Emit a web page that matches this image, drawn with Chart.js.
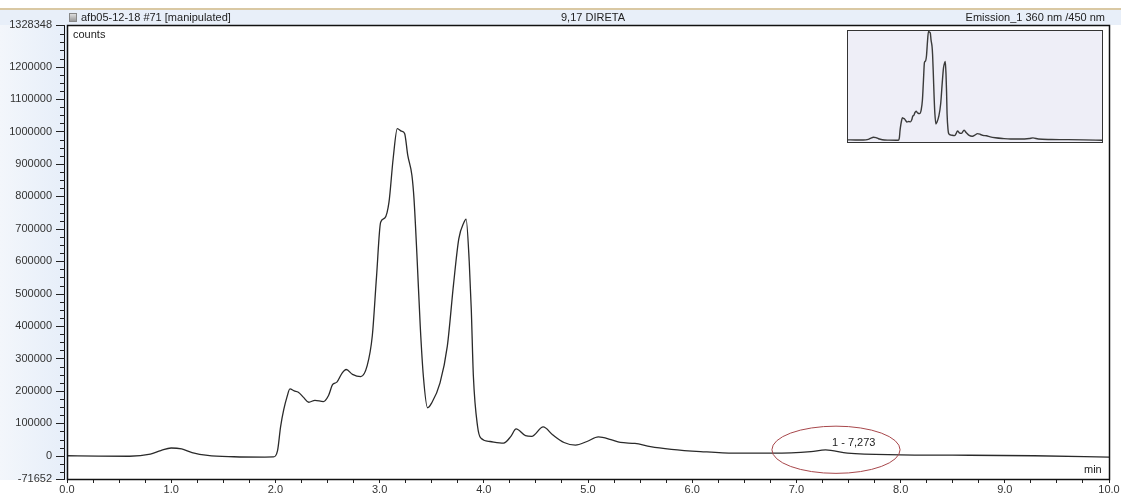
<!DOCTYPE html>
<html>
<head>
<meta charset="utf-8">
<script src="https://cdn.jsdelivr.net/npm/chart.js@4.4.1/dist/chart.umd.min.js"></script>
<style>
  html,body{margin:0;padding:0;background:#fff;}
  #wrap{position:relative;width:1121px;height:497px;overflow:hidden;font-family:"Liberation Sans",Arial,sans-serif;}
  #topline{position:absolute;left:0;top:8px;width:1121px;height:2px;background:#d9c8a3;}
  #band{position:absolute;left:0;top:10px;width:1121px;height:15px;background:#e8eff9;}
  #leftstrip{position:absolute;left:0;top:25px;width:67px;height:455px;background:linear-gradient(to right,#f3f6fb,#e6eef9);}
  #main{position:absolute;left:0;top:0;}
  .hdr{position:absolute;top:11px;font-size:11px;color:#222;line-height:13px;white-space:nowrap;}
  #icon{position:absolute;left:69px;top:13px;width:8px;height:9px;border:1px solid #888;background:linear-gradient(#ddd,#999);box-sizing:border-box;}
  .lbl{position:absolute;font-size:11px;color:#222;white-space:nowrap;}
  #insetBox{position:absolute;left:847px;top:30px;width:256px;height:113px;border:1px solid #333;background:#eeeef7;box-sizing:border-box;}
  #inset{position:absolute;left:0;top:0;}
</style>
</head>
<body>
<div id="wrap">
  <div id="topline"></div>
  <div id="band"></div>
  <div id="leftstrip"></div>
  <canvas id="main" width="1121" height="497"></canvas>
  <div id="icon"></div>
  <div class="hdr" style="left:81px;">afb05-12-18 #71 [manipulated]</div>
  <div class="hdr" style="left:543px;width:100px;text-align:center;">9,17 DIRETA</div>
  <div class="hdr" style="right:16px;">Emission_1 360 nm /450 nm</div>
  <div class="lbl" style="left:73px;top:28px;">counts</div>
  <div class="lbl" style="left:1084px;top:463px;">min</div>
  <div id="insetBox"><canvas id="inset" width="254" height="111"></canvas></div>
</div>
<script>
// ---- data ----
const timeMin = [0.0,0.3,0.6,0.8,0.9,1.0,1.1,1.2,1.35,1.6,1.9,1.98,2.02,2.05,2.08,2.11,2.14,2.18,2.22,2.27,2.32,2.38,2.46,2.51,2.55,2.59,2.64,2.68,2.74,2.82,2.88,2.93,2.97,3.01,3.05,3.09,3.13,3.17,3.21,3.24,3.27,3.31,3.33,3.36,3.39,3.42,3.46,3.50,3.58,3.65,3.71,3.76,3.81,3.83,3.86,3.88,3.90,3.94,3.97,4.06,4.19,4.26,4.31,4.40,4.46,4.57,4.66,4.77,4.88,4.99,5.10,5.22,5.31,5.45,5.6,5.8,6.08,6.4,6.78,7.14,7.28,7.49,8.0,8.5,9.28,10.0];
const counts = [0,-1000,-1500,5000,16000,24000,21000,10000,1000,-3000,-4000,-3500,15000,90000,142000,180000,206000,200000,196000,180000,165000,171000,167000,186000,220000,227000,255000,266000,251000,244000,277000,370000,550000,720000,733000,782000,916000,1009000,1001000,994000,927000,865000,793000,607000,400000,245000,148000,163000,225000,338000,530000,669000,720000,730000,600000,450000,245000,91000,55000,44000,39000,60000,83000,62000,60000,89000,65000,41000,33000,44000,58000,50000,41000,38000,28000,20000,13000,8000,8000,13000,18000,8000,3000,2000,0,-4000];
const xTickLabels = ["0.0","1.0","2.0","3.0","4.0","5.0","6.0","7.0","8.0","9.0","10.0"];
const yLabelValues = [-71652,0,100000,200000,300000,400000,500000,600000,700000,800000,900000,1000000,1100000,1200000,1328348];
const yMin = -71652, yMax = 1328348;
const peakLabel = {text:"1 - 7,273", x:7.55, y:40000};
const peakEllipse = {cx:7.38, cy:18500, rx:0.615, ry:72800};

const points = timeMin.map((t,i)=>({x:t,y:counts[i]}));

// y ticks: labelled values + minor every 25000
const yTickVals = (()=>{
  const s = new Set(yLabelValues);
  for(let v=-50000; v<1320000; v+=25000) s.add(v);
  return Array.from(s).sort((a,b)=>a-b);
})();

const font = {family:"'Liberation Sans', Arial, sans-serif", size:11};

const bgPlugin = {
  id:'bg',
  beforeDraw(chart){
    const {ctx, chartArea:a} = chart;
    ctx.save(); ctx.fillStyle='#fff'; ctx.fillRect(a.left,a.top,a.right-a.left,a.bottom-a.top); ctx.restore();
  },
  afterDraw(chart){
    const {ctx, chartArea:a, scales:{y}} = chart;
    ctx.save();
    ctx.strokeStyle='#111'; ctx.lineWidth=1.5;
    ctx.strokeRect(a.left+0.5,a.top+0.5,a.right-a.left,a.bottom-a.top);
    ctx.lineWidth=1; ctx.beginPath(); ctx.moveTo(a.left-2.5,a.top); ctx.lineTo(a.left-2.5,a.bottom); ctx.stroke();
    // y ticks: long for labelled values, short for minor ones
    ctx.strokeStyle='#222'; ctx.lineWidth=1;
    ctx.beginPath();
    yTickVals.forEach(v=>{
      const py = Math.round(y.getPixelForValue(v))+0.5;
      const len = yLabelValues.includes(v) ? 8 : 4;
      ctx.moveTo(a.left-3-len, py); ctx.lineTo(a.left-2, py);
    });
    ctx.stroke();
    ctx.restore();
  }
};

const peakPlugin = {
  id:'peak',
  afterDatasetsDraw(chart){
    const {ctx, scales:{x,y}} = chart;
    const cx = x.getPixelForValue(peakEllipse.cx), cy = y.getPixelForValue(peakEllipse.cy);
    const rx = x.getPixelForValue(peakEllipse.cx+peakEllipse.rx)-cx;
    const ry = cy - y.getPixelForValue(peakEllipse.cy+peakEllipse.ry);
    ctx.save();
    ctx.strokeStyle='#a8484c'; ctx.lineWidth=1;
    ctx.beginPath(); ctx.ellipse(cx,cy,rx,ry,0,0,Math.PI*2); ctx.stroke();
    ctx.fillStyle='#222'; ctx.font="11px 'Liberation Sans', Arial, sans-serif";
    ctx.textAlign='center'; ctx.textBaseline='middle';
    ctx.fillText(peakLabel.text, x.getPixelForValue(peakLabel.x), y.getPixelForValue(peakLabel.y));
    ctx.restore();
  }
};

new Chart(document.getElementById('main'), {
  type:'line',
  data:{datasets:[{data:points, borderColor:'#2a2a2a', borderWidth:1.3, pointRadius:0, tension:0.4, cubicInterpolationMode:'monotone', fill:false}]},
  options:{
    responsive:false, animation:false, maintainAspectRatio:false,
    layout:{padding:{top:25,right:12,left:0,bottom:0}},
    plugins:{legend:{display:false}, tooltip:{enabled:false}},
    scales:{
      x:{type:'linear', min:0, max:10,
        afterBuildTicks(s){ const t=[]; for(let v=0; v<=10.0001; v+=0.25) t.push({value:Math.round(v*100)/100}); s.ticks=t; },
        afterFit(s){ s.height=18; },
        ticks:{font, color:'#333', padding:0, maxRotation:0, autoSkip:false,
          callback(v){ return Number.isInteger(v) ? xTickLabels[v] : ''; }},
        grid:{drawOnChartArea:false, tickLength:4, tickColor:'#222', tickWidth:1},
        border:{display:true,color:'#111'}
      },
      y:{type:'linear', min:yMin, max:yMax,
        afterBuildTicks(s){ s.ticks = yTickVals.map(v=>({value:v})); },
        afterFit(s){ s.width=67; },
        ticks:{font, color:'#333', padding:4, autoSkip:false,
          callback(v){ return yLabelValues.includes(v) ? String(v) : ''; }},
        grid:{drawOnChartArea:false, tickLength:11, tickColor:'rgba(0,0,0,0)', tickWidth:1},
        border:{display:true,color:'#111',width:1}
      }
    }
  },
  plugins:[bgPlugin, peakPlugin]
});

new Chart(document.getElementById('inset'), {
  type:'line',
  data:{datasets:[{data:points, borderColor:'#3a3a3a', borderWidth:1.4, pointRadius:0, tension:0.4, cubicInterpolationMode:'monotone'}]},
  options:{
    responsive:false, animation:false,
    layout:{padding:0},
    plugins:{legend:{display:false}, tooltip:{enabled:false}},
    scales:{
      x:{type:'linear', min:0, max:10, display:false},
      y:{type:'linear', min:-20000, max:1012000, display:false}
    }
  }
});
</script>
</body>
</html>
